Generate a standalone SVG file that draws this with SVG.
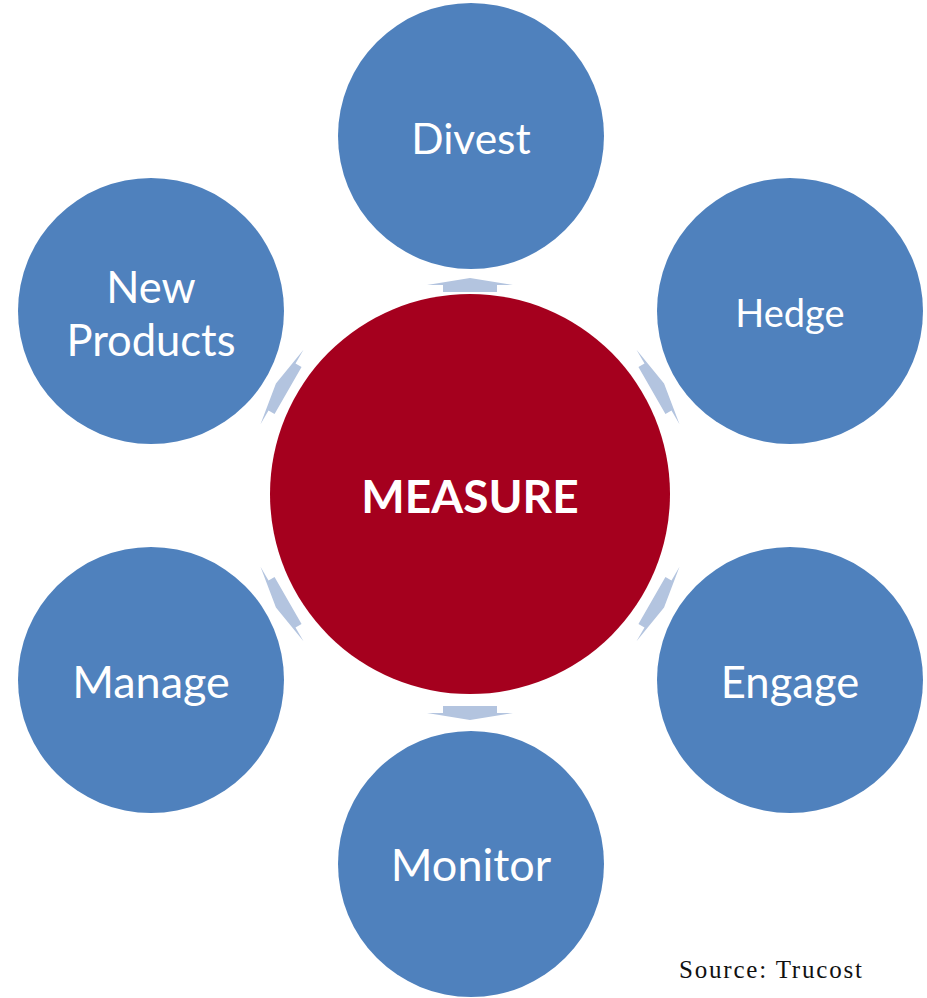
<svg xmlns="http://www.w3.org/2000/svg" width="927" height="998" viewBox="0 0 927 998">
<style>
.node{fill:#4F81BD}
.lbl{fill:#fff;font-family:Lato,"Open Sans",sans-serif;text-anchor:middle;dominant-baseline:central}
.arr{fill:#B3C4DF}
.src{font-family:"Liberation Serif",serif;font-size:25px;fill:#111}
</style>
<defs>
<polygon id="ar" points="-43,0 0,-7 43,0 27,0 27,7 -27,7 -27,0"/>
</defs>
<rect width="927" height="998" fill="#fff"/>
<g id="connectors">
<use href="#ar" class="arr" transform="translate(470 285)"/>
<use href="#ar" class="arr" transform="translate(658 387) rotate(60)"/>
<use href="#ar" class="arr" transform="translate(658 604) rotate(120)"/>
<use href="#ar" class="arr" transform="translate(470 713) rotate(180)"/>
<use href="#ar" class="arr" transform="translate(282 604) rotate(240)"/>
<use href="#ar" class="arr" transform="translate(282 387) rotate(300)"/>
</g>
<g id="measure"><circle cx="470" cy="494" r="200" fill="#A5001E"/><text class="lbl" x="470" y="495" font-size="46" font-weight="bold">MEASURE</text></g>
<g id="divest"><circle class="node" cx="471" cy="136" r="133"/><text class="lbl" x="471" y="137" font-size="42.5">Divest</text></g>
<g id="hedge"><circle class="node" cx="790" cy="311" r="133"/><text class="lbl" x="790" y="312" font-size="38">Hedge</text></g>
<g id="engage"><circle class="node" cx="790" cy="680" r="133"/><text class="lbl" x="790" y="681" font-size="43.5">Engage</text></g>
<g id="monitor"><circle class="node" cx="471" cy="864" r="133"/><text class="lbl" x="471" y="864" font-size="45">Monitor</text></g>
<g id="manage"><circle class="node" cx="151" cy="680" r="133"/><text class="lbl" x="151" y="681" font-size="45">Manage</text></g>
<g id="newproducts"><circle class="node" cx="151" cy="311" r="133"/><text class="lbl" x="151" y="286" font-size="43.5">New</text><text class="lbl" x="151" y="339" font-size="43.5">Products</text></g>
<text class="src" x="679" y="978" textLength="183">Source: Trucost</text>
</svg>
